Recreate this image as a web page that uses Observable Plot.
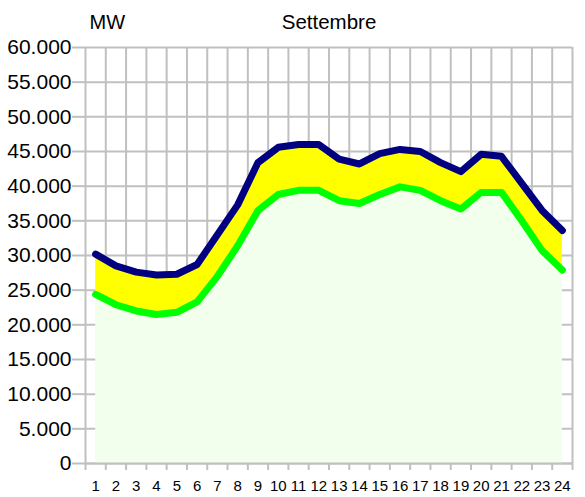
<!DOCTYPE html>
<html>
<head>
<meta charset="utf-8">
<script src="https://cdn.jsdelivr.net/npm/d3@7"></script>
<script src="https://cdn.jsdelivr.net/npm/@observablehq/plot@0.6"></script>
<style>
  html, body { margin: 0; padding: 0; background: #fff; }
</style>
</head>
<body>
<div id="chart"></div>
<script>
const hours = [1,2,3,4,5,6,7,8,9,10,11,12,13,14,15,16,17,18,19,20,21,22,23,24];
const upper = [30200,28500,27600,27200,27300,28700,33000,37300,43400,45600,46000,46000,
               43900,43200,44700,45300,45000,43400,42100,44600,44300,40400,36500,33600];
const lower = [24400,22900,22000,21500,21800,23300,27000,31400,36500,38800,39400,39400,
               37900,37500,38800,39900,39400,37900,36700,39100,39100,35000,30700,27900];
const yTicks = [0,5000,10000,15000,20000,25000,30000,35000,40000,45000,50000,55000,60000];
const unitLabel = "MW";
const title = "Settembre";

const data = hours.map((h, i) => ({hour: h, upper: upper[i], lower: lower[i]}));
const bounds = hours.map(h => h - 0.5).concat([hours[hours.length - 1] + 0.5]);

const itFmt = d3.formatLocale({decimal: ",", thousands: ".", grouping: [3], currency: ["", " €"]}).format(",");

const grid = "#c0c0c0";

const chart = Plot.plot({
  width: 585,
  height: 497,
  marginLeft: 85,
  marginRight: 13,
  marginTop: 47,
  marginBottom: 34,
  style: {fontFamily: "'Liberation Sans', Arial, sans-serif", background: "#fff", color: "#000"},
  x: {domain: [0.5, 24.5]},
  y: {domain: [0, 60000]},
  marks: [
    Plot.gridY(yTicks, {stroke: grid, strokeOpacity: 1, strokeWidth: 2}),
    Plot.gridX(bounds, {stroke: grid, strokeOpacity: 1, strokeWidth: 2}),
    Plot.areaY(data, {x: "hour", y: "lower", fill: "#f2ffec"}),
    Plot.areaY(data, {x: "hour", y1: "lower", y2: "upper", fill: "#ffff00"}),
    Plot.line(data, {x: "hour", y: "lower", stroke: "#00ff00", strokeWidth: 7, strokeLinecap: "round", strokeLinejoin: "round"}),
    Plot.line(data, {x: "hour", y: "upper", stroke: "#000080", strokeWidth: 7, strokeLinecap: "round", strokeLinejoin: "round"}),
    Plot.ruleY([0], {stroke: grid, strokeWidth: 2}),
    Plot.axisY({ticks: yTicks, tickSize: 13, tickPadding: 1, stroke: grid, strokeWidth: 2, fill: "#000",
                fontSize: 21, tickFormat: itFmt, label: null}),
    Plot.axisX({ticks: bounds, tickSize: 7, stroke: grid, strokeWidth: 2, fill: "none", label: null}),
    Plot.axisX({ticks: hours, tickSize: 0, tickPadding: 17, fill: "#000", fontSize: 15, tickFormat: d => String(d), label: null}),
    Plot.text([unitLabel], {frameAnchor: "top-left", dx: 4, dy: -33, textAnchor: "start", fontSize: 20, fill: "#000"}),
    Plot.text([title], {frameAnchor: "top", dy: -33, fontSize: 20.5, fill: "#000"})
  ]
});
document.getElementById("chart").appendChild(chart);
</script>
</body>
</html>
